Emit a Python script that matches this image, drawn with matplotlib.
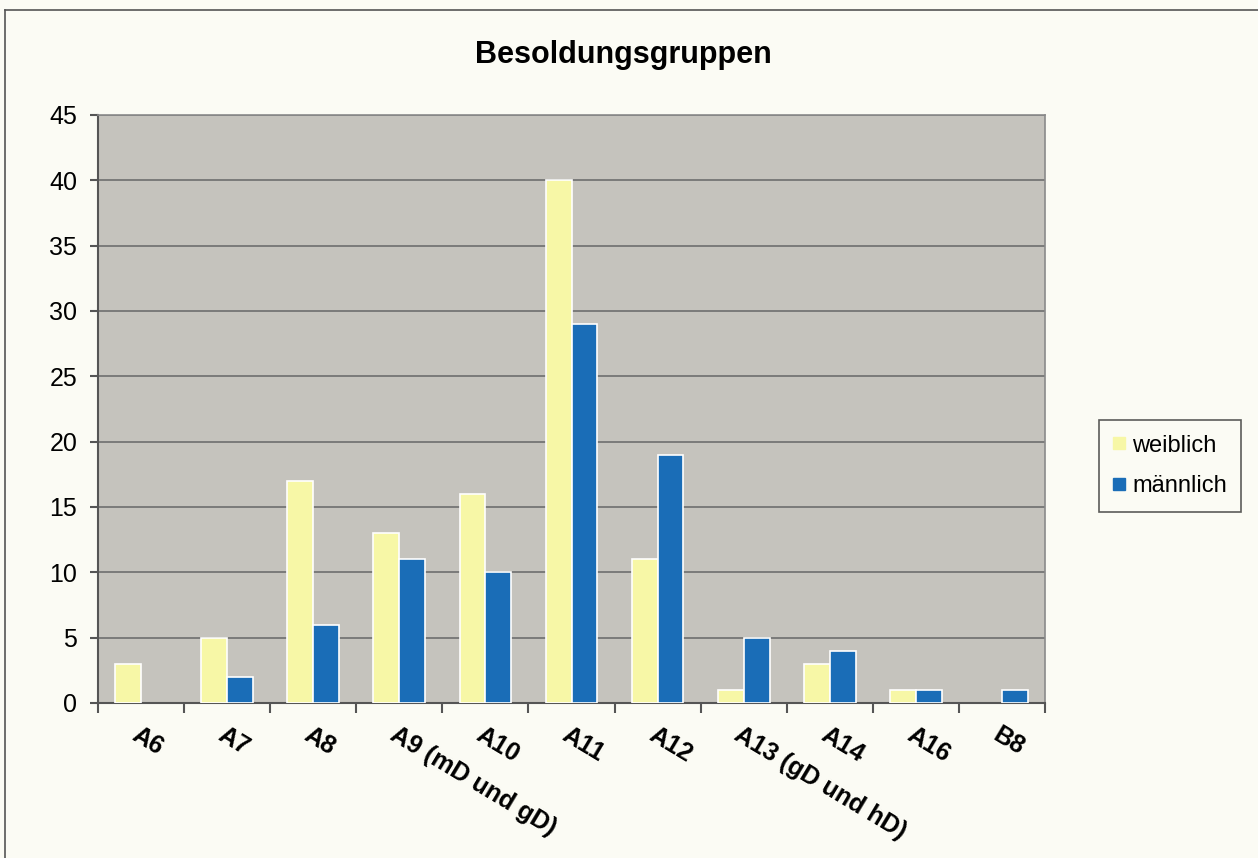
import matplotlib
matplotlib.use("Agg")
import matplotlib.pyplot as plt
import numpy as np
from matplotlib.lines import Line2D

categories = ["A6", "A7", "A8", "A9 (mD und gD)", "A10", "A11", "A12",
              "A13 (gD und hD)", "A14", "A16", "B8"]
weiblich = [3, 5, 17, 13, 16, 40, 11, 1, 3, 1, 0]
maennlich = [0, 2, 6, 11, 10, 29, 19, 5, 4, 1, 1]
yticks = [0, 5, 10, 15, 20, 25, 30, 35, 40, 45]

plt.rcParams['font.family'] = ['Liberation Sans', 'DejaVu Sans']

fig = plt.figure(figsize=(12.58, 8.58), dpi=100)
fig.patch.set_facecolor("#fbfbf4")
ax = fig.add_axes([98/1258, 1-703/858, (1045-98)/1258, (703-115)/858])
ax.set_facecolor("#c5c3bd")

x = np.arange(len(categories))
w = 0.30
ax.bar(x - w/2, weiblich, w, color="#f7f7a6",
       edgecolor=["white" if v > 0 else "none" for v in weiblich],
       linewidth=1.2, label="weiblich", zorder=3)
ax.bar(x + w/2, maennlich, w, color="#1a6db7",
       edgecolor=["white" if v > 0 else "none" for v in maennlich],
       linewidth=1.2, label="männlich", zorder=3)

ax.set_xlim(-0.5, len(categories) - 0.5)
ax.set_ylim(0, 45)
ax.set_yticks(yticks)
ax.set_yticklabels([str(v) for v in yticks], fontsize=18)
ax.yaxis.grid(True, color="#6e6e6e", linewidth=1.2, zorder=1)
ax.set_axisbelow(True)

ax.set_xticks(np.arange(len(categories) + 1) - 0.5, minor=False)
ax.set_xticklabels([])
ax.tick_params(axis='x', direction='out', length=7, width=1.5, color="#555555")
ax.tick_params(axis='y', direction='out', length=6, width=1.5, color="#555555", pad=9)

for i, lab in enumerate(categories):
    ax.text(i - 0.01, -1.5, lab, rotation=-31, rotation_mode='anchor',
            ha='left', va='top', fontsize=18, fontweight='bold')

for s in ["top", "right"]:
    ax.spines[s].set_color("#8a8a8a")
    ax.spines[s].set_linewidth(1.2)
for s in ["left", "bottom"]:
    ax.spines[s].set_color("#555555")
    ax.spines[s].set_linewidth(1.5)

fig.text(623/1258, 1-55/858, "Besoldungsgruppen", ha='center', va='center',
         fontsize=22, fontweight='bold')

handles = [Line2D([], [], marker='s', linestyle='', markersize=9, color="#f7f7a6"),
           Line2D([], [], marker='s', linestyle='', markersize=9, color="#1a6db7")]
leg = fig.legend(handles, ["weiblich", "männlich"], loc='center',
                 bbox_to_anchor=(1170/1258, 1-466/858), fontsize=17,
                 frameon=True, fancybox=False, handlelength=0.5, handletextpad=0.3,
                 labelspacing=0.8, borderpad=0.6, borderaxespad=0)
leg.get_frame().set_edgecolor("#333333")
leg.get_frame().set_facecolor("#fbfbf4")
leg.get_frame().set_linewidth(1.2)

# outer chart border (left and top)
fig.add_artist(Line2D([5/1258, 5/1258], [0, 1-10/858], color="#555555", linewidth=1.2))
fig.add_artist(Line2D([5/1258, 1], [1-10/858, 1-10/858], color="#555555", linewidth=1.2))

fig.savefig("out.png", dpi=100, facecolor=fig.get_facecolor())
